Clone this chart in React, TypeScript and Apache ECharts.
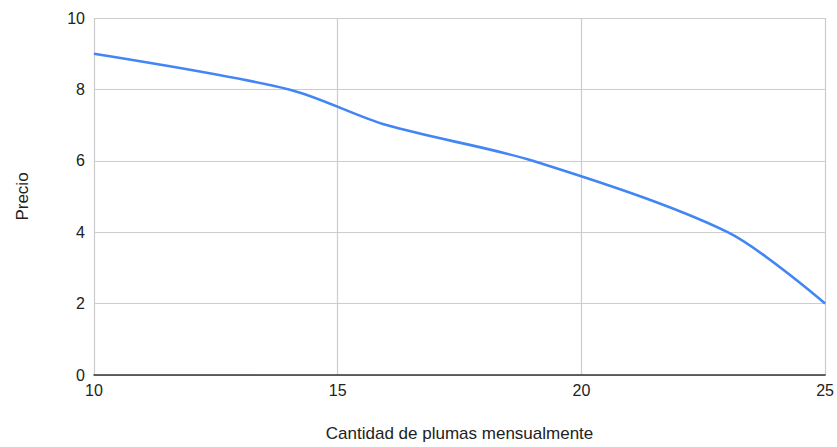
import React, { useEffect, useRef } from "react";
import * as echarts from "echarts";

const cantidad = [10, 14, 16, 19, 23, 25];
const precio = [9, 8, 7, 6, 4, 2];
const xTitle = "Cantidad de plumas mensualmente";
const yTitle = "Precio";

export default function App() {
  const ref = useRef<HTMLDivElement>(null);
  useEffect(() => {
    if (!ref.current) return;
    const chart = echarts.init(ref.current, null, { renderer: "svg" });
    const font = "Arial, 'Liberation Sans', sans-serif";
    chart.setOption({
      animation: false,
      grid: { left: 94, right: 11, top: 18, bottom: 71 },
      xAxis: {
        type: "value",
        min: 10,
        max: 25,
        interval: 5,
        name: xTitle,
        nameLocation: "middle",
        nameGap: 50,
        nameTextStyle: { color: "#222", fontSize: 17, fontFamily: font },
        axisLine: { show: true, lineStyle: { color: "#333", width: 1.5 } },
        axisTick: { show: false },
        axisLabel: { color: "#222", fontSize: 16, fontFamily: font, margin: 7 },
        splitLine: { show: true, lineStyle: { color: "#cccccc", width: 1.2 } },
      },
      yAxis: {
        type: "value",
        min: 0,
        max: 10,
        interval: 2,
        name: yTitle,
        nameLocation: "middle",
        nameGap: 63,
        nameTextStyle: { color: "#222", fontSize: 17, fontFamily: font },
        axisLine: { show: false },
        axisTick: { show: false },
        axisLabel: { color: "#222", fontSize: 16, fontFamily: font, margin: 9 },
        splitLine: { show: true, lineStyle: { color: "#cccccc", width: 1.2 } },
      },
      series: [
        {
          type: "line",
          data: cantidad.map((x, i) => [x, precio[i]]),
          smooth: 0.3,
          showSymbol: false,
          lineStyle: { color: "#4285F4", width: 2.6 },
        },
      ],
    });
    return () => chart.dispose();
  }, []);
  return <div ref={ref} style={{ width: 837, height: 447, position: "absolute", left: 0, top: 0 }} />;
}
